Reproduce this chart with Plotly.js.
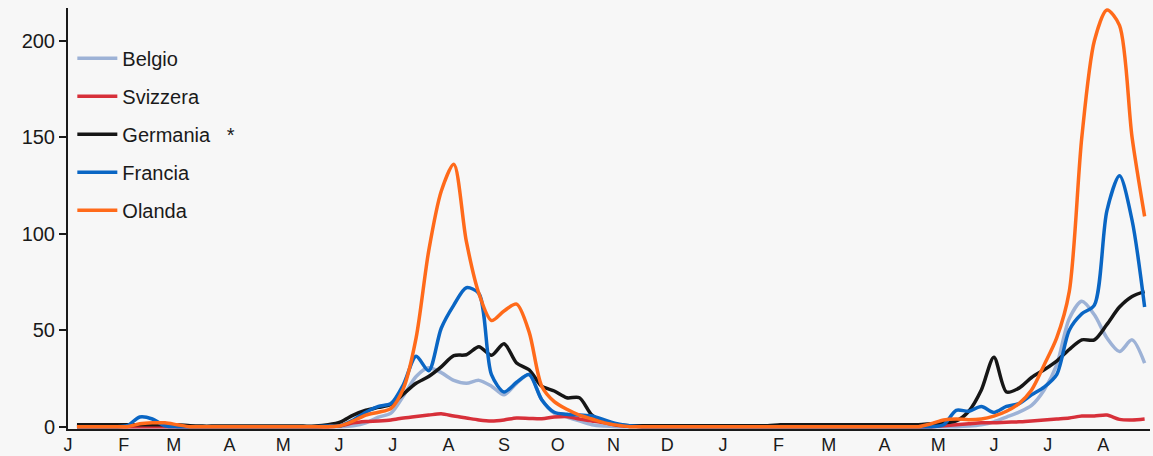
<!DOCTYPE html>
<html>
<head>
<meta charset="utf-8">
<script src="https://cdn.plot.ly/plotly-3.0.1.min.js"></script>
<style>html,body{margin:0;padding:0;background:#f7f7f7;}#chart{width:1153px;height:456px;}</style>
</head>
<body>
<div id="chart"></div>
<script>
const weeks = [
 "2018-01-06","2018-01-13","2018-01-20","2018-01-27","2018-02-03","2018-02-10","2018-02-17","2018-02-24",
 "2018-03-03","2018-03-10","2018-03-17","2018-03-24","2018-03-31","2018-04-07","2018-04-14","2018-04-21","2018-04-28",
 "2018-05-05","2018-05-12","2018-05-19","2018-05-26","2018-06-02","2018-06-09","2018-06-16","2018-06-23","2018-06-30",
 "2018-07-07","2018-07-14","2018-07-21","2018-07-28","2018-08-04","2018-08-11","2018-08-18","2018-08-25",
 "2018-09-01","2018-09-08","2018-09-15","2018-09-22","2018-09-29","2018-10-06","2018-10-13","2018-10-20","2018-10-27",
 "2018-11-03","2018-11-10","2018-11-17","2018-11-24","2018-12-01","2018-12-08","2018-12-15","2018-12-22","2018-12-29",
 "2019-01-05","2019-01-12","2019-01-19","2019-01-26","2019-02-02","2019-02-09","2019-02-16","2019-02-23",
 "2019-03-02","2019-03-09","2019-03-16","2019-03-23","2019-03-30","2019-04-06","2019-04-13","2019-04-20","2019-04-27",
 "2019-05-04","2019-05-11","2019-05-18","2019-05-25","2019-06-01","2019-06-08","2019-06-15","2019-06-22","2019-06-29",
 "2019-07-06","2019-07-13","2019-07-20","2019-07-27","2019-08-03","2019-08-10","2019-08-17","2019-08-24"
];

const belgio = [0,0,0,0,0,0,0,0,0,0,
 0,0,0,0,0,0,0,0,0,0,
 0,0,0.5,2,5,7,16,26,30.5,28,
 24,22.5,24,21,16.5,22.5,27,14,7,5,
 3,1,0.3,0,0,0,0,0,0,0,
 0,0,0,0,0,0,0,0,0,0,
 0,0,0,0,0,0,0,0,0,0,
 0,0.3,1,2.5,5,7.5,11,19,32,56,
 65,58,46,39,45,33];

const svizzera = [0,0,0,0,0,0,0,0,0,0,
 0,0,0,0,0,0,0,0,0,0,
 0,0.5,2,2.7,3,3.5,4.5,5.3,6,6.7,
 5.5,4.5,3.5,3,3.5,4.5,4.3,4.1,5,5.3,
 4,3,2,0.8,0.3,0,0,0,0,0,
 0,0,0,0,0,0,0,0,0,0,
 0,0,0,0,0,0,0,0,0,0.5,
 1,1.5,2,2,2.3,2.5,3,3.5,4,4.5,
 5.5,5.5,6,3.8,3.5,4];

const germania = [1,1,1,1,1,1,1,1,1,0.5,
 0.3,0.3,0.3,0.3,0.3,0.3,0.3,0.3,0.3,0.3,
 1,2.5,6,8.5,10,11.5,17,22.5,26,31,
 36.8,37.3,41.4,37,43,33,29.5,21,18.5,15,
 15,6,2.5,1,0.5,0.5,0.5,0.5,0.5,0.5,
 0.5,0.5,0.5,0.5,0.5,0.5,1,1,1,1,
 1,1,1,1,1,1,1,1,1.5,2,
 3,8,19,36,18,20,25.5,29.5,34,40,
 45,45,53,62,67.5,70];

const francia = [0,0,0,0,0.5,5,4,0.5,0,0,
 0,0,0,0,0,0,0,0,0,0,
 0.3,0.5,3.5,7.5,10.5,12,22,36.5,29,51,
 63,72,69,27,18,23,27,14,7.5,6.5,
 6,5.5,3.5,1.5,0.5,0,0,0,0,0,
 0,0,0,0,0,0,0,0,0,0,
 0,0,0,0,0,0,0,0,0,1,
 8.5,8,10.5,7.4,10.5,12,16.5,20.5,27,50,
 58.5,63,112,130,107,62];

const olanda = [0,0,0,0,0,1.5,2,2,1,0,
 0,0,0,0,0,0,0,0,0,0,
 0,0.5,3,6,7.5,9.5,20,46,91,122,
 136,96,69,55,60,63.5,49,21,13,9,
 6,4,2,0.8,0,0,0,0,0,0,
 0,0,0,0,0,0,0,0,0,0,
 0,0,0,0,0,0,0,0,1.5,3.5,
 4,3.6,4,5.5,8,12,19,32,46,70,
 150,200,216,208,150,109];

const monthTicks = ["2018-01-01","2018-02-01","2018-03-01","2018-04-01","2018-05-01","2018-06-01",
 "2018-07-01","2018-08-01","2018-09-01","2018-10-01","2018-11-01","2018-12-01",
 "2019-01-01","2019-02-01","2019-03-01","2019-04-01","2019-05-01","2019-06-01","2019-07-01","2019-08-01"];
const monthLabels = ["J","F","M","A","M","J","J","A","S","O","N","D","J","F","M","A","M","J","J","A"];
const yTicks = [0,50,100,150,200];

const seriesNames = ["Belgio","Svizzera","Germania\u00a0\u00a0\u00a0*","Francia","Olanda"];
const seriesData = [belgio, svizzera, germania, francia, olanda];
const seriesColors = ["#9db2d6","#d7303a","#161616","#0a66c4","#ff6a1a"];

const font = "Liberation Sans, Arial, sans-serif";
const traces = seriesData.map((d,i)=>({
  type:"scatter", mode:"lines", x:weeks, y:d, name:seriesNames[i],
  legendgroup:"g"+i,
  line:{color:seriesColors[i], width:3.5, shape:"spline", smoothing:0.8},
  hoverinfo:"x+y+name"
}));

const layout = {
  width:1153, height:456,
  margin:{l:68, r:3, t:8, b:27},
  paper_bgcolor:"#f7f7f7", plot_bgcolor:"#f7f7f7",
  font:{family:font, size:19, color:"#1a1a1a"},
  showlegend:true,
  legend:{x:0.004, y:0.927, xanchor:"left", yanchor:"top", bgcolor:"rgba(0,0,0,0)",
          font:{family:font, size:20, color:"#1a1a1a"}, tracegroupgap:9, itemwidth:40},
  xaxis:{type:"date", range:["2018-01-01","2019-08-27"], tickmode:"array",
         tickvals:monthTicks, ticktext:monthLabels, showgrid:false, zeroline:false,
         showline:true, linecolor:"#1a1a1a", linewidth:2, ticks:"", ticklabelstandoff:-2,
         tickfont:{family:font, size:18, color:"#1a1a1a"}},
  yaxis:{range:[-1.2,217], tickmode:"array", tickvals:yTicks, showgrid:false, zeroline:false,
         showline:true, linecolor:"#1a1a1a", linewidth:2, ticks:"outside", ticklen:7,
         tickcolor:"#1a1a1a", tickwidth:2, ticklabelstandoff:0,
         tickfont:{family:font, size:20, color:"#1a1a1a"}}
};

Plotly.newPlot("chart", traces, layout, {displayModeBar:false, staticPlot:true});
</script>
</body>
</html>
